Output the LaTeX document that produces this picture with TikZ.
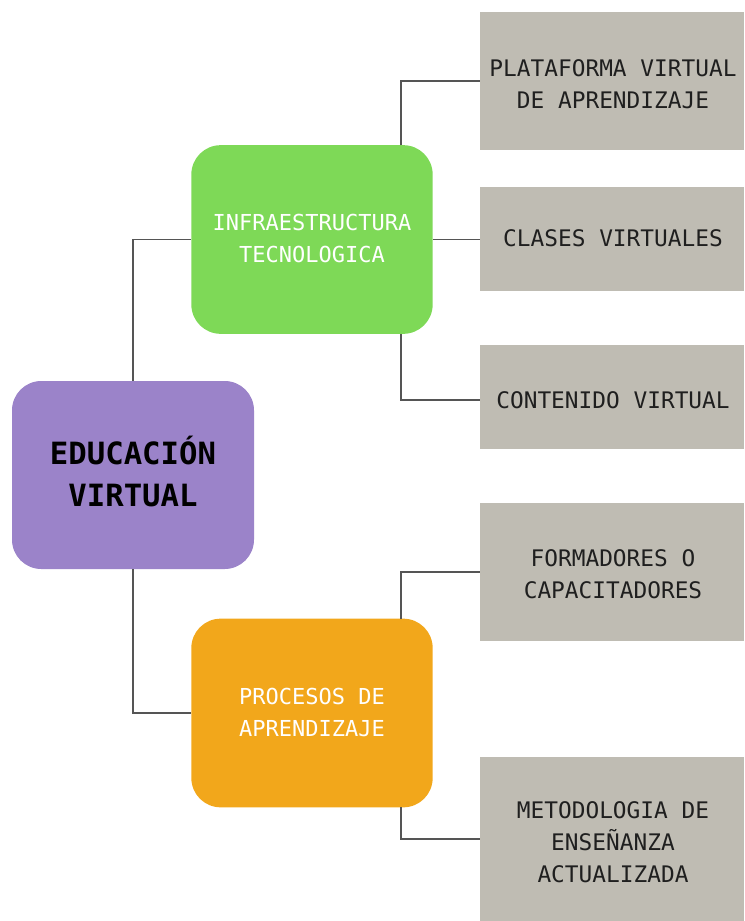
\documentclass[tikz,border=0pt]{standalone}
\usepackage{fontspec}
\newfontfamily\monofont{DejaVu Sans Mono}
\definecolor{purplebox}{HTML}{9B83C9}
\definecolor{greenbox}{HTML}{7ED957}
\definecolor{orangebox}{HTML}{F2A71B}
\definecolor{graybox}{HTML}{BFBCB3}
\definecolor{linegray}{HTML}{555555}
\begin{document}
\begin{tikzpicture}[x=0.75pt,y=-0.75pt,
  mainbox/.style={rectangle, rounded corners=22pt, fill=purplebox, minimum width=181.5pt, minimum height=141pt, inner sep=0pt},
  maintext/.style={align=center, inner sep=0pt, font=\monofont\bfseries\fontsize{23}{32}\selectfont, text=black},
  subbox/.style={rectangle, rounded corners=22pt, minimum width=181pt, minimum height=141.5pt, inner sep=0pt},
  subtext/.style={align=center, inner sep=0pt, font=\monofont\fontsize{16.5}{24}\selectfont, text=white},
  leafbox/.style={rectangle, fill=graybox, minimum width=198pt, inner sep=0pt},
  leaftext/.style={align=center, inner sep=0pt, font=\monofont\fontsize{17.1}{24}\selectfont, text=black!88},
  link/.style={draw=linegray, line width=0.8pt}]
\useasboundingbox (0,0) rectangle (744,921);
% boxes
\node[mainbox] (ev) at (133,475) {};
\node[subbox, fill=greenbox] (it) at (312,239.5) {};
\node[subbox, fill=orangebox] (pa) at (312,713) {};
\node[leafbox, minimum height=103.5pt] (l1) at (612,81) {};
\node[leafbox, minimum height=78pt] (l2) at (612,239) {};
\node[leafbox, minimum height=78pt] (l3) at (612,397) {};
\node[leafbox, minimum height=103.5pt] (l4) at (612,572) {};
\node[leafbox, minimum height=123pt] (l5) at (612,839) {};
% texts
\node[maintext] (evt) at (133,471.5) {EDUCACIÓN\\VIRTUAL};
\node[subtext] (itt) at (312,238) {INFRAESTRUCTURA\\TECNOLOGICA};
\node[subtext] (pat) at (312,712) {PROCESOS DE\\APRENDIZAJE};
\node[leaftext] (l1t) at (613,84.5) {PLATAFORMA VIRTUAL\\DE APRENDIZAJE};
\node[leaftext] (l2t) at (613,238) {CLASES VIRTUALES};
\node[leaftext] (l3t) at (613,400) {CONTENIDO VIRTUAL};
\node[leaftext] (l4t) at (613,574) {FORMADORES O\\CAPACITADORES};
\node[leaftext] (l5t) at (613,842.5) {METODOLOGIA DE\\ENSEÑANZA\\ACTUALIZADA};
% connectors
\coordinate (itn) at (401,145);
\coordinate (its) at (401,334);
\coordinate (pan) at (401,619);
\coordinate (pas) at (401,807);
\coordinate (l3c) at (480,400);
\draw[link] (ev.north) |- (it.west);
\draw[link] (ev.south) |- (pa.west);
\draw[link] (itn) |- (l1.west);
\draw[link] (it.east) -- (it.east -| l2.west);
\draw[link] (its) |- (l3c);
\draw[link] (pan) |- (l4.west);
\draw[link] (pas) |- (l5.west);
\end{tikzpicture}
\end{document}
